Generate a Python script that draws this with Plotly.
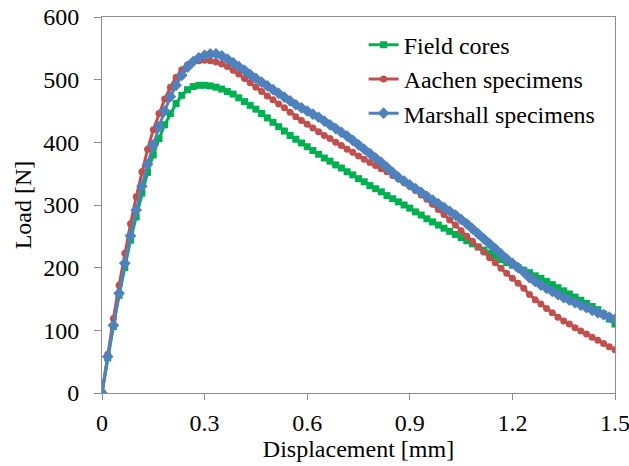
import plotly.graph_objects as go

n_points = 91
displacement = [i * 1.5 / 90 for i in range(n_points)]

field_cores = [
    0, 56, 106, 156, 200, 244, 281, 319, 352, 380,
    406, 428, 446, 462, 475, 484, 489, 491, 491, 490,
    488, 485, 481, 477, 471, 465, 459, 453, 446, 439,
    432, 425, 418, 411, 405, 399, 393, 387, 381, 375,
    370, 364, 359, 353, 348, 342, 337, 331, 326, 321,
    315, 310, 305, 300, 295, 289, 284, 278, 273, 268,
    263, 258, 253, 248, 243, 238, 233, 228, 223, 218,
    213, 208, 204, 200, 196, 192, 187, 183, 178, 173,
    168, 163, 158, 153, 148, 143, 138, 133, 126, 118,
    110,
]

aachen = [
    0, 62, 119, 172, 223, 270, 313, 353, 389, 420,
    446, 469, 488, 504, 516, 524, 528, 530, 531, 530,
    528, 525, 521, 515, 509, 502, 495, 488, 481, 474,
    468, 461, 455, 448, 441, 435, 429, 423, 417, 411,
    406, 400, 395, 389, 384, 378, 373, 368, 363, 358,
    353, 347, 342, 336, 330, 323, 316, 309, 301, 293,
    285, 276, 268, 259, 250, 242, 233, 225, 216, 208,
    199, 191, 183, 175, 167, 157, 149, 142, 135, 128,
    121, 115, 110, 104, 99, 94, 89, 84, 79, 74,
    69,
]

marshall = [
    0, 58, 108, 159, 207, 251, 292, 330, 365, 396,
    425, 450, 473, 491, 507, 520, 529, 535, 539, 541,
    541, 538, 533, 527, 521, 515, 508, 502, 496, 490,
    484, 478, 472, 466, 460, 455, 450, 445, 440, 434,
    428, 422, 416, 410, 403, 396, 389, 382, 375, 368,
    360, 352, 344, 338, 332, 326, 320, 314, 308, 302,
    296, 290, 284, 277, 270, 262, 254, 246, 238, 230,
    222, 214, 207, 200, 193, 184, 178, 172, 167, 162,
    157, 152, 148, 144, 140, 136, 132, 128, 125, 121,
    118,
]

series_names = ["Field cores", "Aachen specimens", "Marshall specimens"]
x_ticks = [0, 0.3, 0.6, 0.9, 1.2, 1.5]
x_tick_labels = ["0", "0.3", "0.6", "0.9", "1.2", "1.5"]
y_ticks = [0, 100, 200, 300, 400, 500, 600]
y_tick_labels = ["0", "100", "200", "300", "400", "500", "600"]

FONT = "Liberation Serif"
TICK_FONT = "Times New Roman"
AXIS_COLOR = "#8C8C8C"

fig = go.Figure()
fig.add_trace(go.Scatter(
    x=displacement, y=field_cores, name=series_names[0], mode="lines+markers",
    line=dict(color="#00B050", width=3),
    marker=dict(symbol="square", size=7, color="#00B050"),
))
fig.add_trace(go.Scatter(
    x=displacement, y=aachen, name=series_names[1], mode="lines+markers",
    line=dict(color="#C0504D", width=3),
    marker=dict(symbol="circle", size=7, color="#C0504D"),
))
fig.add_trace(go.Scatter(
    x=displacement, y=marshall, name=series_names[2], mode="lines+markers",
    line=dict(color="#4F81BD", width=3),
    marker=dict(symbol="diamond", size=9, color="#4F81BD"),
))

fig.update_layout(
    width=629, height=466,
    margin=dict(l=102, r=14, t=17, b=73),
    paper_bgcolor="white", plot_bgcolor="white",
    font=dict(family=FONT, size=24, color="black"),
    showlegend=True,
    legend=dict(
        x=0.51, y=0.985, xanchor="left", yanchor="top",
        bgcolor="rgba(0,0,0,0)", font=dict(family=FONT, size=24, color="black"),
        tracegroupgap=0, itemwidth=30,
    ),
    xaxis=dict(
        range=[0, 1.5], tickmode="array", tickvals=x_ticks, ticktext=x_tick_labels,
        automargin=False, ticklabeloverflow="allow",
        showgrid=False, zeroline=False,
        showline=True, linecolor=AXIS_COLOR, linewidth=1, mirror=True,
        ticks="outside", ticklen=6, tickcolor=AXIS_COLOR, tickwidth=1,
        ticklabelstandoff=2,
        tickfont=dict(family=TICK_FONT, size=24, color="black"),
        title=dict(text="Displacement [mm]", font=dict(family=FONT, size=24, color="black"), standoff=4),
    ),
    yaxis=dict(
        range=[0, 600], tickmode="array", tickvals=y_ticks, ticktext=y_tick_labels,
        automargin=False, ticklabeloverflow="allow",
        showgrid=False, zeroline=False,
        showline=True, linecolor=AXIS_COLOR, linewidth=1, mirror=True,
        ticks="outside", ticklen=7, tickcolor=AXIS_COLOR, tickwidth=1,
        ticklabelstandoff=10,
        tickfont=dict(family=TICK_FONT, size=24, color="black"),
        title=dict(text="Load [N]", font=dict(family=FONT, size=24, color="black"), standoff=4),
    ),
)

fig.write_html("out.html")
